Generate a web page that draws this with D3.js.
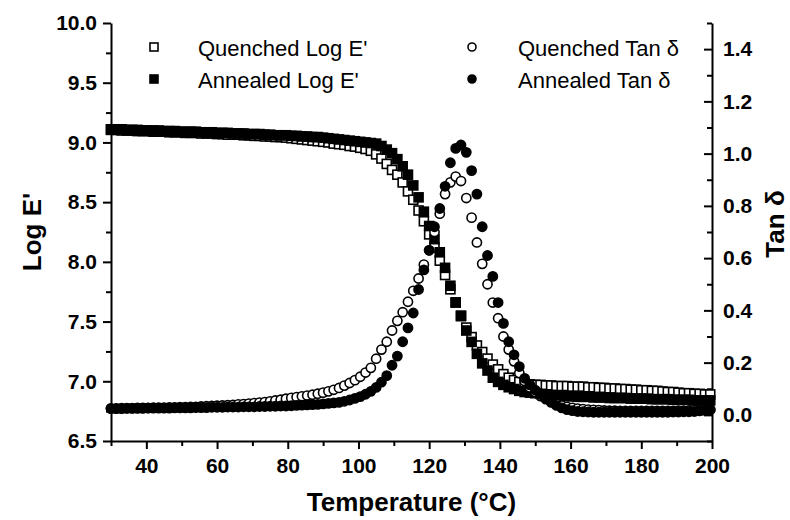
<!DOCTYPE html>
<html>
<head>
<meta charset="utf-8">
<script src="https://cdn.jsdelivr.net/npm/d3@7"></script>
<style>
  body { margin: 0; background: #fff; }
  svg { display: block; font-family: "Liberation Sans", Arial, sans-serif; }
</style>
</head>
<body>
<div id="chart"></div>
<script>
// temperature (°C), one reading every 1.5 degrees
const temperature = [
  30, 31.5, 33, 34.5, 36, 37.5, 39, 40.5, 42, 43.5,
  45, 46.5, 48, 49.5, 51, 52.5, 54, 55.5, 57, 58.5,
  60, 61.5, 63, 64.5, 66, 67.5, 69, 70.5, 72, 73.5,
  75, 76.5, 78, 79.5, 81, 82.5, 84, 85.5, 87, 88.5,
  90, 91.5, 93, 94.5, 96, 97.5, 99, 100.5, 102, 103.5,
  105, 106.5, 108, 109.5, 111, 112.5, 114, 115.5, 117, 118.5,
  120, 121.5, 123, 124.5, 126, 127.5, 129, 130.5, 132, 133.5,
  135, 136.5, 138, 139.5, 141, 142.5, 144, 145.5, 147, 148.5,
  150, 151.5, 153, 154.5, 156, 157.5, 159, 160.5, 162, 163.5,
  165, 166.5, 168, 169.5, 171, 172.5, 174, 175.5, 177, 178.5,
  180, 181.5, 183, 184.5, 186, 187.5, 189, 190.5, 192, 193.5,
  195, 196.5, 198, 199.5
];

const quenchedLogE = [
  9.105, 9.105, 9.10, 9.10, 9.10, 9.095, 9.095, 9.095, 9.09, 9.09,
  9.09, 9.085, 9.085, 9.085, 9.08, 9.08, 9.08, 9.075, 9.075, 9.075,
  9.07, 9.07, 9.065, 9.065, 9.065, 9.06, 9.06, 9.055, 9.055, 9.05,
  9.05, 9.045, 9.045, 9.04, 9.035, 9.03, 9.025, 9.02, 9.015, 9.01,
  9.005, 9.0, 8.99, 8.985, 8.98, 8.97, 8.965, 8.955, 8.945, 8.93,
  8.90, 8.865, 8.82, 8.77, 8.73, 8.665, 8.59, 8.52, 8.43, 8.34,
  8.23, 8.12, 8.01, 7.89, 7.77, 7.66, 7.55, 7.45, 7.37, 7.30,
  7.245, 7.19, 7.14, 7.10, 7.06, 7.03, 7.01, 6.995, 6.985, 6.975,
  6.97, 6.97, 6.965, 6.965, 6.96, 6.96, 6.96, 6.955, 6.955, 6.955,
  6.95, 6.95, 6.945, 6.945, 6.94, 6.94, 6.935, 6.935, 6.93, 6.93,
  6.925, 6.925, 6.92, 6.92, 6.915, 6.91, 6.91, 6.905, 6.90, 6.90,
  6.895, 6.895, 6.89, 6.89
];

const annealedLogE = [
  9.11, 9.11, 9.11, 9.105, 9.105, 9.105, 9.10, 9.10, 9.10, 9.10,
  9.095, 9.095, 9.095, 9.09, 9.09, 9.09, 9.09, 9.085, 9.085, 9.085,
  9.08, 9.08, 9.08, 9.075, 9.075, 9.075, 9.07, 9.07, 9.07, 9.065,
  9.065, 9.06, 9.06, 9.06, 9.055, 9.055, 9.05, 9.05, 9.045, 9.045,
  9.04, 9.035, 9.03, 9.025, 9.02, 9.015, 9.01, 9.005, 9.0, 8.995,
  8.99, 8.97, 8.94, 8.91, 8.86, 8.80, 8.73, 8.64, 8.54, 8.42,
  8.30, 8.19, 8.08, 7.95, 7.80, 7.66, 7.545, 7.425, 7.33, 7.23,
  7.15, 7.09, 7.03, 6.995, 6.97, 6.95, 6.935, 6.92, 6.91, 6.905,
  6.90, 6.895, 6.89, 6.885, 6.88, 6.88, 6.875, 6.875, 6.87, 6.87,
  6.87, 6.865, 6.865, 6.865, 6.86, 6.86, 6.86, 6.86, 6.855, 6.855,
  6.855, 6.855, 6.85, 6.85, 6.85, 6.85, 6.845, 6.845, 6.845, 6.845,
  6.84, 6.84, 6.84, 6.84
];

const quenchedTan = [
  0.025, 0.025, 0.026, 0.026, 0.026, 0.027, 0.027, 0.027, 0.028, 0.028,
  0.028, 0.029, 0.029, 0.03, 0.03, 0.031, 0.031, 0.032, 0.033, 0.034,
  0.035, 0.036, 0.037, 0.038, 0.04, 0.041, 0.043, 0.045, 0.047, 0.049,
  0.052, 0.055, 0.058, 0.062, 0.065, 0.068, 0.071, 0.074, 0.077, 0.081,
  0.085, 0.09, 0.096, 0.103, 0.112, 0.122, 0.133, 0.146, 0.162, 0.18,
  0.215, 0.25, 0.28, 0.323, 0.36, 0.393, 0.433, 0.475, 0.522, 0.575,
  0.63, 0.70, 0.77, 0.845, 0.89, 0.912, 0.895, 0.83, 0.755, 0.66,
  0.578, 0.50, 0.43, 0.37, 0.30, 0.25, 0.205, 0.16, 0.13, 0.105,
  0.088, 0.072, 0.06, 0.05, 0.042, 0.036, 0.031, 0.027, 0.024, 0.022,
  0.02, 0.019, 0.018, 0.017, 0.016, 0.016, 0.015, 0.015, 0.015, 0.015,
  0.015, 0.015, 0.015, 0.015, 0.015, 0.015, 0.015, 0.016, 0.016, 0.017,
  0.018, 0.018, 0.019, 0.02
];

const annealedTan = [
  0.024, 0.024, 0.024, 0.025, 0.025, 0.025, 0.025, 0.026, 0.026, 0.026,
  0.026, 0.026, 0.027, 0.027, 0.027, 0.027, 0.028, 0.028, 0.028, 0.029,
  0.029, 0.029, 0.03, 0.03, 0.03, 0.031, 0.031, 0.031, 0.032, 0.032,
  0.033, 0.033, 0.034, 0.034, 0.035, 0.036, 0.037, 0.038, 0.039, 0.04,
  0.042, 0.044, 0.046, 0.048, 0.052, 0.057, 0.063, 0.07, 0.079, 0.09,
  0.105, 0.125, 0.15, 0.19, 0.225, 0.28, 0.333, 0.39, 0.48, 0.555,
  0.63, 0.72, 0.79, 0.875, 0.965, 1.02, 1.033, 1.005, 0.935, 0.845,
  0.72, 0.61, 0.53, 0.43, 0.35, 0.28, 0.23, 0.185, 0.14, 0.115,
  0.095, 0.078, 0.062, 0.048, 0.036, 0.027, 0.02, 0.016, 0.013, 0.012,
  0.011, 0.01, 0.01, 0.01, 0.01, 0.01, 0.01, 0.01, 0.01, 0.01,
  0.01, 0.01, 0.01, 0.01, 0.01, 0.01, 0.011, 0.011, 0.012, 0.012,
  0.013, 0.015, 0.017, 0.02
];

const tempTicks = [40, 60, 80, 100, 120, 140, 160, 180, 200];
const tempMinor = [30, 50, 70, 90, 110, 130, 150, 170, 190];
const logETicks = [6.5, 7.0, 7.5, 8.0, 8.5, 9.0, 9.5, 10.0];
const logEMinor = [6.75, 7.25, 7.75, 8.25, 8.75, 9.25, 9.75];
const tanTicks = [0.0, 0.2, 0.4, 0.6, 0.8, 1.0, 1.2, 1.4];
const tanMinor = [-0.1, 0.1, 0.3, 0.5, 0.7, 0.9, 1.1, 1.3, 1.5];

const legendLabels = ["Quenched Log E'", "Annealed Log E'", "Quenched Tan \u03b4", "Annealed Tan \u03b4"];

const width = 790, height = 520;
const margin = { top: 23, right: 78, bottom: 79, left: 111 };

const svg = d3.select('#chart').append('svg')
  .attr('width', width)
  .attr('height', height);

const x = d3.scaleLinear().domain([30, 200]).range([margin.left, width - margin.right]);
const yLeft = d3.scaleLinear().domain([6.5, 10]).range([height - margin.bottom, margin.top]);
const yRight = d3.scaleLinear().domain([-0.1, 1.5]).range([height - margin.bottom, margin.top]);

const styleAxis = (g) => {
  g.selectAll('line').attr('stroke', '#000').attr('stroke-width', 2);
  g.selectAll('path').attr('stroke', '#000').attr('stroke-width', 2);
  g.selectAll('text')
    .attr('fill', '#000')
    .style('font-family', '"Liberation Sans", Arial, sans-serif')
    .style('font-size', '21px')
    .style('font-weight', 'bold');
};

// bottom axis
svg.append('g')
  .attr('transform', `translate(0,${height - margin.bottom})`)
  .call(d3.axisBottom(x).tickValues(tempTicks).tickSizeInner(8).tickSizeOuter(0).tickPadding(9).tickFormat(d3.format('d')))
  .call(styleAxis);
svg.append('g')
  .attr('transform', `translate(0,${height - margin.bottom})`)
  .call(d3.axisBottom(x).tickValues(tempMinor).tickSize(5).tickFormat(''))
  .call(g => g.select('.domain').remove())
  .call(styleAxis);

// left axis
svg.append('g')
  .attr('transform', `translate(${margin.left},0)`)
  .call(d3.axisLeft(yLeft).tickValues(logETicks).tickSizeInner(8).tickSizeOuter(0).tickPadding(6).tickFormat(d3.format('.1f')))
  .call(styleAxis);
svg.append('g')
  .attr('transform', `translate(${margin.left},0)`)
  .call(d3.axisLeft(yLeft).tickValues(logEMinor).tickSize(5).tickFormat(''))
  .call(g => g.select('.domain').remove())
  .call(styleAxis);

// right axis, ticks point into the plot
svg.append('g')
  .attr('transform', `translate(${width - margin.right},0)`)
  .call(d3.axisRight(yRight).tickValues(tanTicks).tickSizeInner(-8).tickSizeOuter(0).tickPadding(11).tickFormat(d3.format('.1f')))
  .call(styleAxis);
svg.append('g')
  .attr('transform', `translate(${width - margin.right},0)`)
  .call(d3.axisRight(yRight).tickValues(tanMinor).tickSizeInner(-5).tickSizeOuter(0).tickFormat(''))
  .call(g => g.select('.domain').remove())
  .call(styleAxis);

// axis titles
const titleFont = g => g
  .style('font-family', '"Liberation Sans", Arial, sans-serif')
  .style('font-size', '26px')
  .style('font-weight', 'bold')
  .attr('fill', '#000')
  .attr('text-anchor', 'middle');

svg.append('text')
  .attr('x', (margin.left + width - margin.right) / 2)
  .attr('y', 511)
  .text('Temperature (\u00b0C)')
  .call(titleFont);

svg.append('text')
  .attr('transform', `translate(41,${(margin.top + height - margin.bottom) / 2}) rotate(-90)`)
  .text("Log E'")
  .call(titleFont);

svg.append('text')
  .attr('transform', `translate(784,${(margin.top + height - margin.bottom) / 2 - 8}) rotate(-90)`)
  .text('Tan \u03b4')
  .call(titleFont);

// markers
const sq = 9, r = 4.6;
const rows = vals => temperature.map((t, i) => ({ t, v: vals[i] }));

const drawSquares = (vals, filled) => {
  svg.append('g').selectAll('rect')
    .data(rows(vals))
    .enter()
    .append('rect')
    .attr('x', d => x(d.t) - sq / 2)
    .attr('y', d => yLeft(d.v) - sq / 2)
    .attr('width', sq)
    .attr('height', sq)
    .attr('fill', filled ? '#000' : '#fff')
    .attr('stroke', '#000')
    .attr('stroke-width', 1.6);
};

const drawCircles = (vals, filled) => {
  svg.append('g').selectAll('circle')
    .data(rows(vals))
    .enter()
    .append('circle')
    .attr('cx', d => x(d.t))
    .attr('cy', d => yRight(d.v))
    .attr('r', r)
    .attr('fill', filled ? '#000' : '#fff')
    .attr('stroke', '#000')
    .attr('stroke-width', 1.6);
};

drawSquares(quenchedLogE, false);
drawSquares(annealedLogE, true);
drawCircles(quenchedTan, false);
drawCircles(annealedTan, true);

// legend
const legend = [
  { label: legendLabels[0], shape: 'square', filled: false, mx: 154, tx: 198, y: 47 },
  { label: legendLabels[1], shape: 'square', filled: true, mx: 154, tx: 198, y: 79 },
  { label: legendLabels[2], shape: 'circle', filled: false, mx: 472, tx: 518, y: 47 },
  { label: legendLabels[3], shape: 'circle', filled: true, mx: 472, tx: 518, y: 79 }
];

const lg = svg.append('g').selectAll('g')
  .data(legend)
  .enter()
  .append('g');

lg.filter(d => d.shape === 'square')
  .append('rect')
  .attr('x', d => d.mx - 4)
  .attr('y', d => d.y - 4)
  .attr('width', 8)
  .attr('height', 8)
  .attr('fill', d => d.filled ? '#000' : '#fff')
  .attr('stroke', '#000')
  .attr('stroke-width', 1.6);

lg.filter(d => d.shape === 'circle')
  .append('circle')
  .attr('cx', d => d.mx)
  .attr('cy', d => d.y)
  .attr('r', 4)
  .attr('fill', d => d.filled ? '#000' : '#fff')
  .attr('stroke', '#000')
  .attr('stroke-width', 1.6);

lg.append('text')
  .attr('x', d => d.tx)
  .attr('y', d => d.y + 9)
  .style('font-family', '"Liberation Sans", Arial, sans-serif')
  .style('font-size', '22px')
  .attr('fill', '#000')
  .text(d => d.label);
</script>
</body>
</html>
